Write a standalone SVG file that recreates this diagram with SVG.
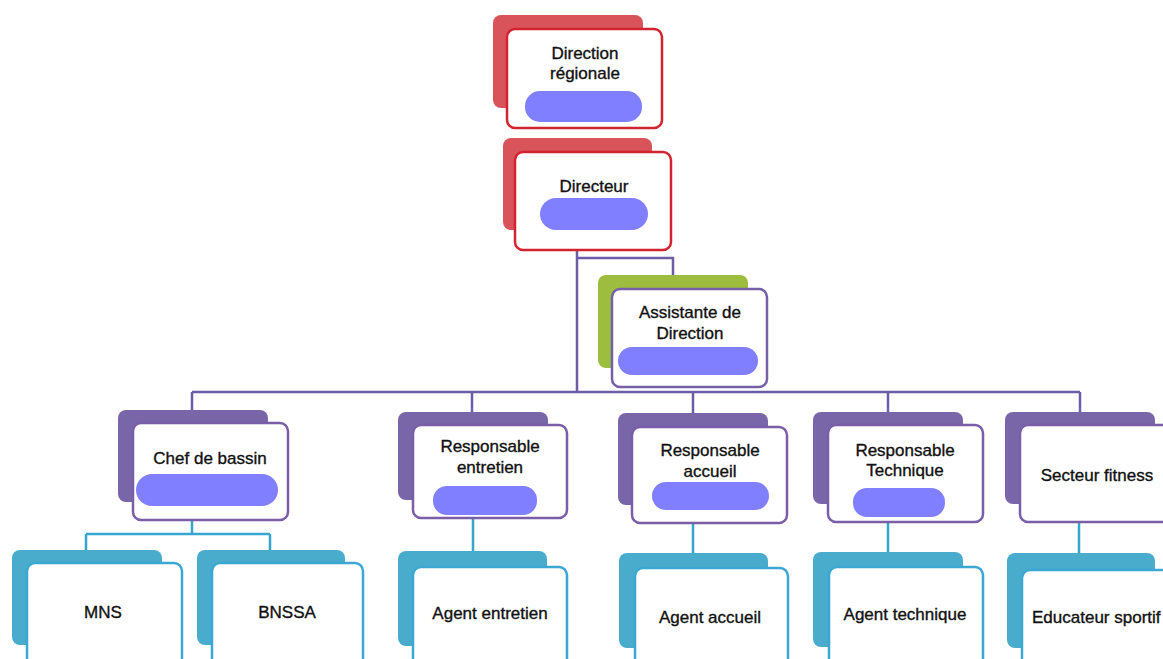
<svg xmlns="http://www.w3.org/2000/svg" width="1163" height="659" viewBox="0 0 1163 659">
<style>
.t{font-family:"Liberation Sans","DejaVu Sans",sans-serif;font-size:17px;fill:#111;stroke:#111;stroke-width:0.35;text-anchor:middle}
.front{fill:#fff;stroke-width:2.5}
.red .back{fill:#d9545a}.red .front{stroke:#d2232f}
.grn .back{fill:#9cbd3e}.grn .front{stroke:#7460a8}
.pur .back{fill:#7866a8}.pur .front{stroke:#7a5ea8}
.tea .back{fill:#4aaccd}.tea .front{stroke:#3aa8d2}
.blob{fill:#7f7fff}
.cp{fill:none;stroke:#6d5ca6;stroke-width:2.5}
.ct{fill:none;stroke:#35a6cf;stroke-width:2.5}
</style>
<rect width="1163" height="659" fill="#fff"/>
<g id="connectors">
<path class="cp" d="M577 250V392M577 258H673V275M192 392H1080M192 392V411M472 392V412M693 392V413M888 392V412M1080 392V412"/>
<path class="ct" d="M192 520V534M86 534H270M86 534V550M270 534V550M473 518V551M693 523V553M888 522V552M1079 522V553"/>
</g>
<g id="n-direction-regionale" class="red">
<rect class="back" x="493" y="15" width="150" height="93" rx="8"/>
<rect class="front" x="507" y="29" width="155" height="99" rx="8"/>
<text class="t" x="585" y="59">Direction</text>
<text class="t" x="585" y="79">régionale</text>
<rect class="blob" x="525" y="91" width="117" height="31" rx="15"/>
</g>
<g id="n-directeur" class="red">
<rect class="back" x="503" y="138" width="149" height="92" rx="8"/>
<rect class="front" x="515" y="152" width="156" height="98" rx="8"/>
<text class="t" x="594" y="192">Directeur</text>
<rect class="blob" x="540" y="198" width="108" height="32" rx="16"/>
</g>
<g id="n-assistante" class="grn">
<rect class="back" x="598" y="275" width="150" height="93" rx="8"/>
<rect class="front" x="612" y="289" width="155" height="98" rx="8"/>
<text class="t" x="690" y="318">Assistante de</text>
<text class="t" x="690" y="339">Direction</text>
<rect class="blob" x="618" y="347" width="140" height="28" rx="14"/>
</g>
<g id="n-chef-bassin" class="pur">
<rect class="back" x="118" y="410" width="150" height="92" rx="8"/>
<rect class="front" x="133" y="423" width="155" height="97" rx="8"/>
<text class="t" x="210" y="464">Chef de bassin</text>
<rect class="blob" x="136" y="474" width="142" height="32" rx="16"/>
</g>
<g id="n-resp-entretien" class="pur">
<rect class="back" x="398" y="412" width="150" height="88" rx="8"/>
<rect class="front" x="413" y="425" width="154" height="93" rx="8"/>
<text class="t" x="490" y="452">Responsable</text>
<text class="t" x="490" y="473">entretien</text>
<rect class="blob" x="433" y="486" width="104" height="29" rx="14"/>
</g>
<g id="n-resp-accueil" class="pur">
<rect class="back" x="618" y="413" width="150" height="92" rx="8"/>
<rect class="front" x="632" y="427" width="155" height="96" rx="8"/>
<text class="t" x="710" y="456">Responsable</text>
<text class="t" x="710" y="477">accueil</text>
<rect class="blob" x="652" y="482" width="117" height="28" rx="14"/>
</g>
<g id="n-resp-technique" class="pur">
<rect class="back" x="813" y="412" width="150" height="92" rx="8"/>
<rect class="front" x="828" y="425" width="155" height="97" rx="8"/>
<text class="t" x="905" y="456">Responsable</text>
<text class="t" x="905" y="476">Technique</text>
<rect class="blob" x="853" y="488" width="92" height="29" rx="14"/>
</g>
<g id="n-secteur-fitness" class="pur">
<rect class="back" x="1005" y="412" width="150" height="92" rx="8"/>
<rect class="front" x="1020" y="425" width="155" height="97" rx="8"/>
<text class="t" x="1097" y="481">Secteur fitness</text>
</g>
<g id="n-mns" class="tea">
<rect class="back" x="12" y="550" width="150" height="95" rx="8"/>
<rect class="front" x="27" y="563" width="155" height="110" rx="8"/>
<text class="t" x="103" y="618">MNS</text>
</g>
<g id="n-bnssa" class="tea">
<rect class="back" x="197" y="550" width="148" height="95" rx="8"/>
<rect class="front" x="212" y="563" width="151" height="110" rx="8"/>
<text class="t" x="287" y="618">BNSSA</text>
</g>
<g id="n-agent-entretien" class="tea">
<rect class="back" x="398" y="551" width="149" height="95" rx="8"/>
<rect class="front" x="413" y="567" width="154" height="110" rx="8"/>
<text class="t" x="490" y="619">Agent entretien</text>
</g>
<g id="n-agent-accueil" class="tea">
<rect class="back" x="619" y="553" width="149" height="95" rx="8"/>
<rect class="front" x="635" y="568" width="153" height="110" rx="8"/>
<text class="t" x="710" y="623">Agent accueil</text>
</g>
<g id="n-agent-technique" class="tea">
<rect class="back" x="813" y="552" width="150" height="95" rx="8"/>
<rect class="front" x="829" y="567" width="154" height="110" rx="8"/>
<text class="t" x="905" y="620">Agent technique</text>
</g>
<g id="n-educateur-sportif" class="tea">
<rect class="back" x="1007" y="553" width="148" height="95" rx="8"/>
<rect class="front" x="1022" y="570" width="155" height="110" rx="8"/>
<text class="t" x="1032" y="623" style="text-anchor:start">Educateur sportif</text>
</g>
</svg>
